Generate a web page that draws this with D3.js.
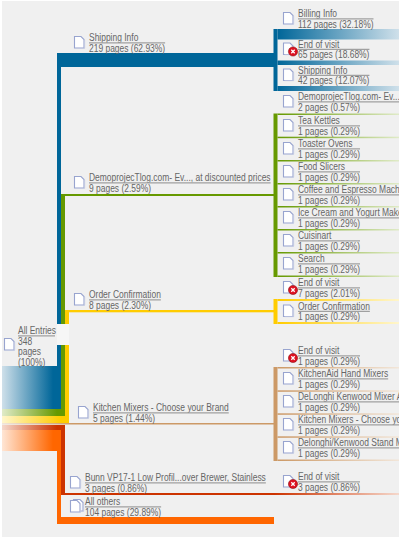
<!DOCTYPE html>
<html><head><meta charset="utf-8">
<script src="https://cdn.jsdelivr.net/npm/d3@7/dist/d3.min.js"></script>
<style>html,body{margin:0;padding:0;background:#fff}svg{display:block}text{font-family:"Liberation Sans",Arial,sans-serif;font-size:10px;fill:#666}</style>
</head><body><svg id="c" width="400" height="537"></svg>
<script>
// ---- data ----
const totalPages = 348;
const rootName = "All Entries";
const pathNames = ["Shipping Info","DemoprojecTlog.com- Ev..., at discounted prices","Order Confirmation","Kitchen Mixers - Choose your Brand","Bunn VP17-1 Low Profil...over Brewer, Stainless","All others"];
const pathPages = [219,9,8,5,3,104];
const nextNames = ["Billing Info","End of visit","Shipping Info","DemoprojecTlog.com- Ev...","Tea Kettles","Toaster Ovens","Food Slicers","Coffee and Espresso Machines","Ice Cream and Yogurt Makers","Cuisinart","Search","End of visit","Order Confirmation","End of visit","KitchenAid Hand Mixers","DeLonghi Kenwood Mixer Attachments","Kitchen Mixers - Choose your Brand","Delonghi/Kenwood Stand Mixers","End of visit"];
const nextPages = [112,65,42,2,1,1,1,1,1,1,1,7,1,1,1,1,1,1,3];

// ---- layout and style ----
const colors = ["#006699","#669900","#ffcc00","#cc9966","#cc3300","#ff6600"];
const paleEnd = ["#cfe0ea","#e0ebc8","#fff6cc","#f2e6d9","#f5d8cc","#ffe6d5"];
const bg = "#f0f0f0";
const squeeze = 0.845;
const pct = d3.format(".2f");
const color = d3.scaleOrdinal().domain(d3.range(6)).range(colors);
const pale = d3.scaleOrdinal().domain(d3.range(6)).range(paleEnd);

const xSplit = 274, xBracket = 277.5, xEnd = 399, xLeft = 2;
const pathBlock  = [[366,409],[409,416],[416,423],[423,424.5],[425,430],[430,451]];
const pathColumn = [[57,61],[61,65],[65,69],null,[61,65],[57,61]];
const pathBar    = [[53,67],[194,196],[310,312.3],[423,424.6],[493,495],[517,524]];
const pathLabel  = [[89,41],[89,181],[89,298],[93,411],[85,481],[85,505]];
const nextLabelY = [17,47.5,73.5,100,124,147,170,193,216,239,262,286,309.5,354,377,400,423,446,480];
const brackets = {0:[29,91],1:[113.5,277],2:[299,324],3:[367,461]};
const branches = [[29,39.5,0],[60.5,65,0],[86,91,0],[113.5,115,1],[136.7,138.2,1],[160,161.5,1],[183,184.5,1],[206,207.5,1],[229,230.5,1],[252,253.5,1],[275.5,277,1],[299,301,2],[322,324,2],[367,368.5,3],[390.3,391.8,3],[413.3,414.8,3],[436.3,437.8,3],[459.5,461,3]];

const svg = d3.select("#c");
const defs = svg.append("defs");
defs.append("clipPath").attr("id","clip").append("rect").attr("width",xEnd).attr("height",537);
svg.append("rect").attr("x",xLeft).attr("y",1).attr("width",xEnd-xLeft).attr("height",536).attr("fill",bg);

function grad(id,x1,x2,stops){
  const g = defs.append("linearGradient").attr("id",id).attr("gradientUnits","userSpaceOnUse").attr("x1",x1).attr("x2",x2).attr("y1",0).attr("y2",0);
  stops.forEach(s=>g.append("stop").attr("offset",s[0]).attr("stop-color",s[1]));
  return `url(#${id})`;
}
const box = (g,x0,y0,x1,y1,f)=>g.append("rect").attr("x",x0).attr("y",y0).attr("width",x1-x0).attr("height",y1-y0).attr("fill",f);

const flow = svg.append("g");
pathPages.forEach((p,i)=>{
  const c = color(i), col = pathColumn[i], blk = pathBlock[i], bar = pathBar[i];
  const right = col ? col[1] : 80;
  const l = grad("l"+i,xLeft,right-8,[[0,pale(i)],[1,c]]);
  if(col){
    box(flow,xLeft,blk[0],col[1],blk[1],l);
    box(flow,col[0],Math.min(bar[0],blk[0]),col[1],Math.max(bar[1],blk[0]),c);
    box(flow,col[0],bar[0],xSplit,bar[1],c);
  } else {
    box(flow,xLeft,blk[0],xSplit,blk[1],l);
  }
});
box(flow,xSplit,pathBar[4][0],xEnd,pathBar[4][1],grad("redfade",xSplit,xEnd,[[0,colors[4]],[1,paleEnd[4]]]));
box(flow,57,324,69,345,"#f6f6f6");

d3.range(4).forEach(i=>{
  const f = grad("r"+i,xBracket,xEnd,[[0,color(i)],[1,pale(i)]]);
  box(flow,xSplit-0.5,brackets[i][0],xBracket,brackets[i][1],color(i));
  branches.filter(b=>b[2]===i).forEach(b=>box(flow,xBracket,b[0],xEnd,b[1],f));
});

function doc(g,x,y,double){
  if(double){ doc(g,x+3,y-1); }
  g.append("path").attr("d",`M${x+.5},${y+.5}h6.5l3,3v8.5h-9.5z`).attr("fill","#fff").attr("stroke","#98a4cf").attr("stroke-width",1.1);
  g.append("path").attr("d",`M${x+1.5},${y+12.2}h9.2v-8`).attr("fill","none").attr("stroke","#c5cbe3").attr("stroke-width",.8);
}
function stop(g,x,y){
  g.append("circle").attr("cx",x).attr("cy",y).attr("r",4.6).attr("fill","#dd1120").attr("stroke","#7a0a10").attr("stroke-width",.5);
  g.append("path").attr("d",`M${x-1.7},${y-1.7}l3.4,3.4m0,-3.4l-3.4,3.4`).attr("stroke","#fff").attr("stroke-width",1.3);
}
function word(g,x,y,s){
  const t = g.append("text").attr("x",x).attr("y",y).text(s);
  const w = t.node().getComputedTextLength()*squeeze;
  t.attr("textLength",w).attr("lengthAdjust","spacingAndGlyphs");
  return w;
}
function label(g,x,y,lines){
  const w = d3.max(lines.map((s,i)=>word(g,x,y+(i?10.9:0),s)));
  g.append("line").attr("x1",x).attr("x2",x+w).attr("y1",y+1.8).attr("y2",y+1.8).attr("stroke","#a0a0a0").attr("stroke-width",1.2);
}
const root = svg.append("g").attr("clip-path","url(#clip)");
doc(root,4,338);
word(root,18,334,rootName);
root.append("line").attr("x1",18).attr("x2",55).attr("y1",335.8).attr("y2",335.8).attr("stroke","#a0a0a0").attr("stroke-width",1.2);
[String(totalPages),"pages","(100%)"].forEach((s,i)=>word(root,18,344.5+i*10.7,s));
pathNames.forEach((n,i)=>{
  const [x,y] = pathLabel[i];
  doc(root,x-15,y-5,i===5);
  label(root,x,y,[n,`${pathPages[i]} pages (${pct(pathPages[i]/totalPages*100)}%)`]);
});
nextNames.forEach((n,i)=>{
  const y = nextLabelY[i];
  doc(root,283,y-5);
  if(n==="End of visit") stop(root,293,y+4);
  label(root,298,y,[n,`${nextPages[i]} pages (${pct(nextPages[i]/totalPages*100)}%)`]);
});
</script></body></html>
